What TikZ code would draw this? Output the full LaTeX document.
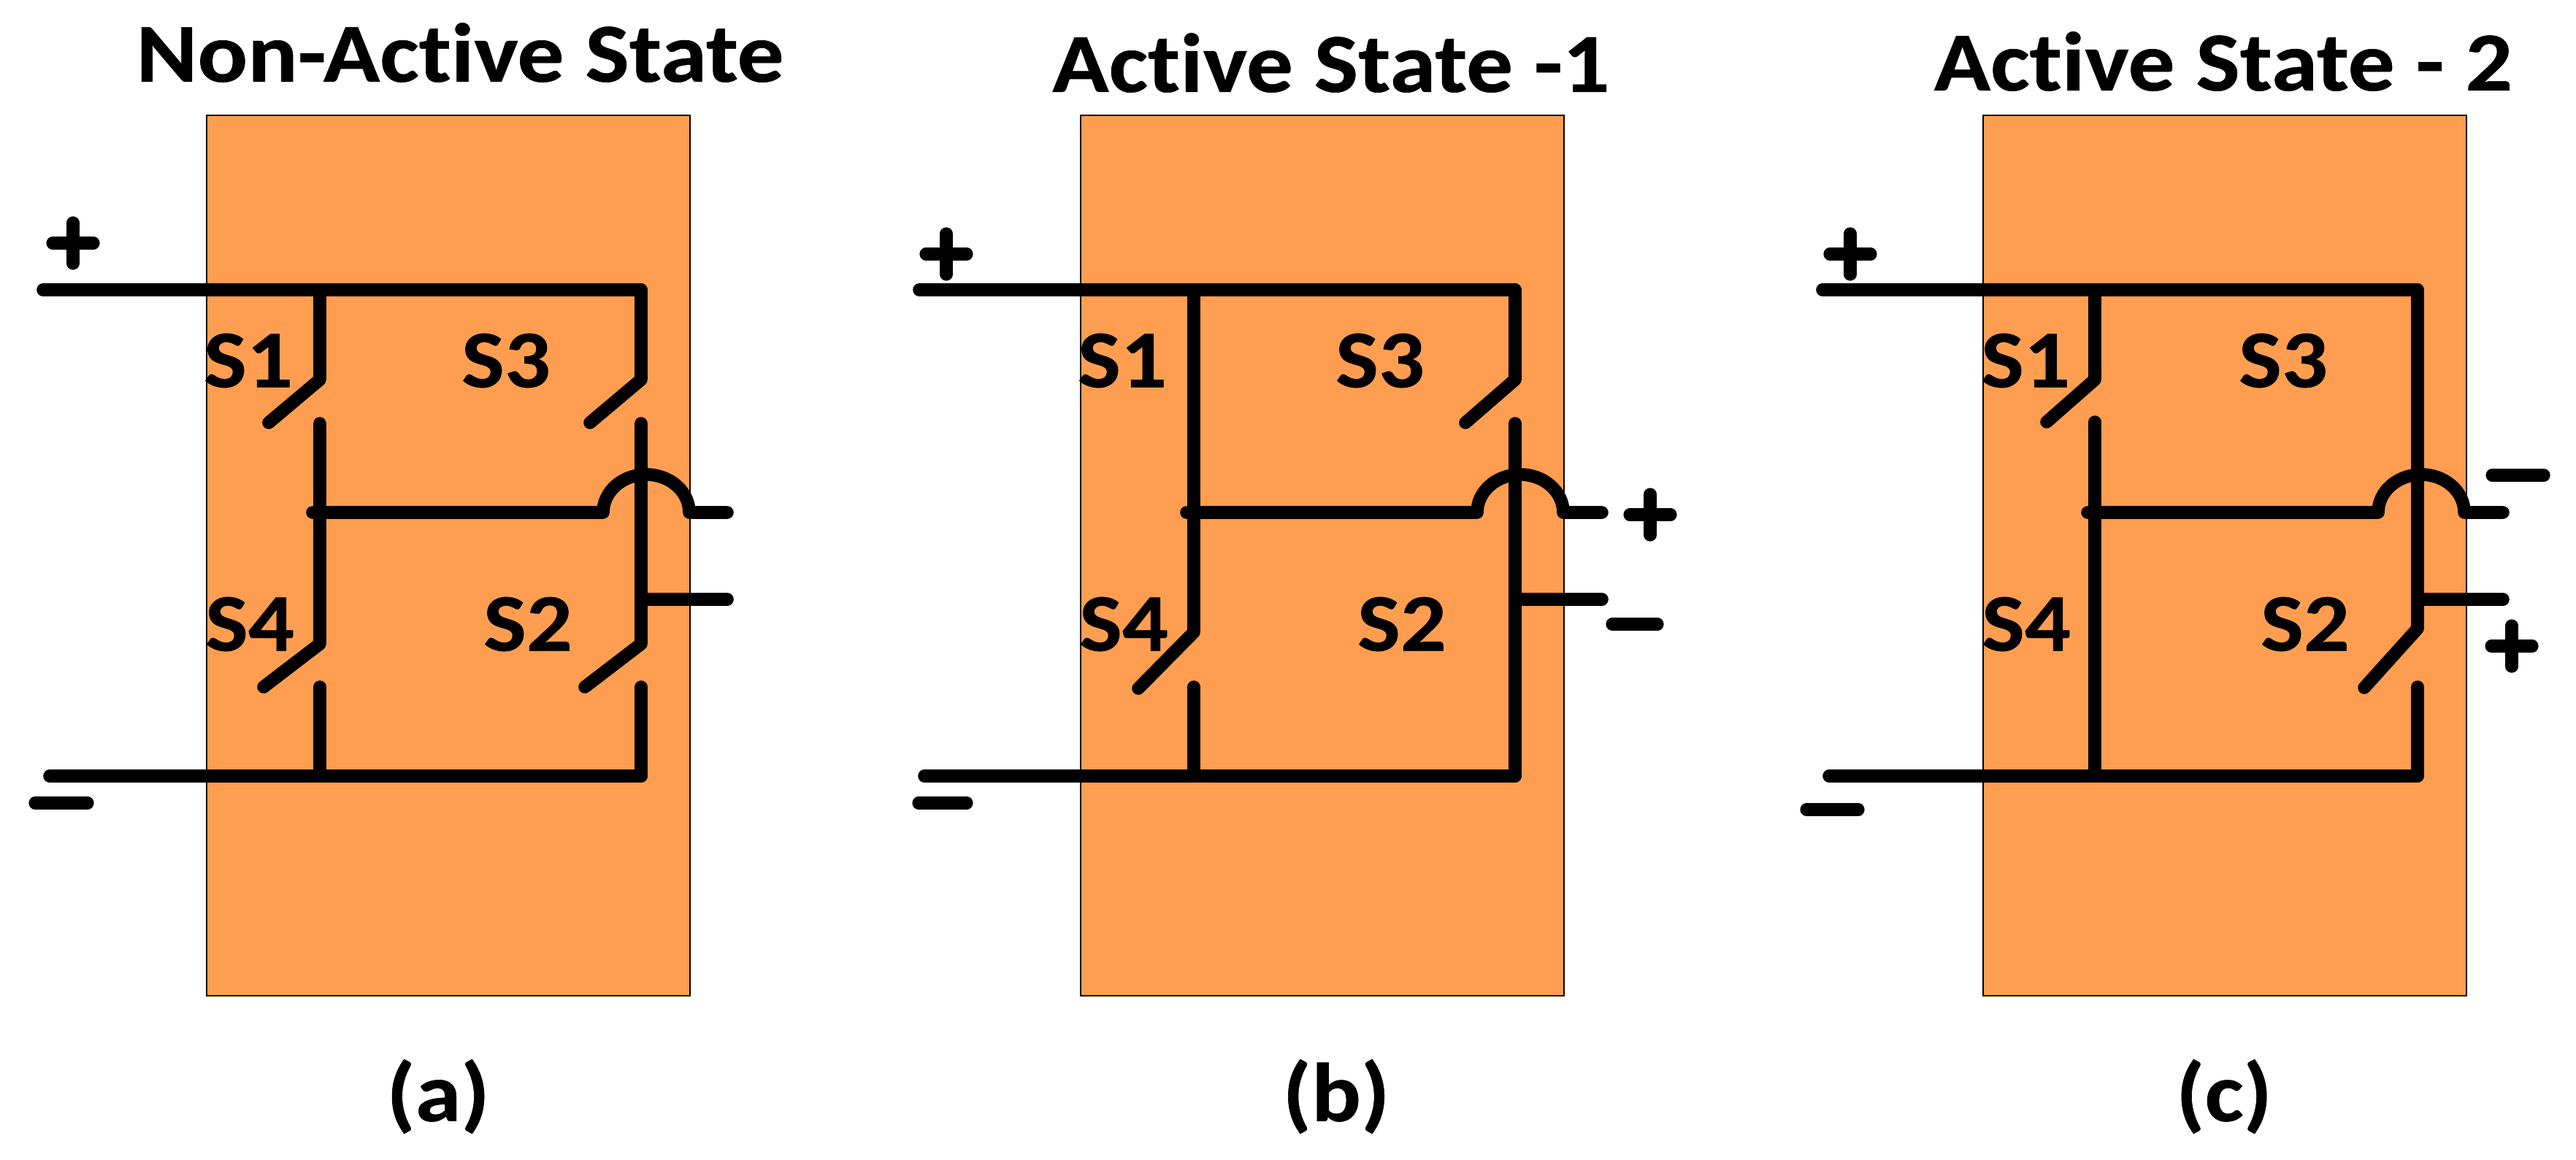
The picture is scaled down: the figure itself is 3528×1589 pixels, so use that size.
\documentclass[tikz,border=0pt]{standalone}
\usepackage{fontspec}
\setmainfont[Ligatures=NoCommon,BoldFeatures={FakeStretch=1.11,FakeBold=0.5}]{Carlito}
\definecolor{panelfill}{RGB}{255,158,80}
\tikzset{
  x=0.5pt,y=-0.5pt,
  panelbox/.style={draw=black,line width=1.3pt,fill=panelfill,minimum width=331pt,minimum height=603pt,inner sep=0pt},
  wire/.style={line width=8.8pt,line cap=round,line join=round,black},
  sign/.style={line width=8.6pt,line cap=round,black},
  swlabel/.style={font=\fontsize{56}{60}\bfseries\selectfont,inner sep=0pt,anchor=center},
  title/.style={font=\fontsize{57.5}{60}\bfseries\selectfont,inner sep=0pt,anchor=center},
  caption/.style={font=\fontsize{57}{60}\bfseries\selectfont,inner sep=0pt,anchor=center}
}
\begin{document}
\begin{tikzpicture}
\useasboundingbox (0,0) rectangle (3528,1589);
% ---------- panel a
\node[panelbox] (boxa) at (614,761) {};
\node[title] (titlea) at (630,72) {Non-Active State};
\node[caption] (capa) at (600,1502) {(a)};
\coordinate (a1) at (59,397); \coordinate (a2) at (438,397); \coordinate (a3) at (878,397);
\coordinate (a4) at (68,1063); \coordinate (a5) at (438,1063); \coordinate (a6) at (878,1063);
\draw[wire] (a1) -- (a3);
\draw[wire] (a4) -- (a6);
\draw[wire] (a2) -- (438,520) -- (368,579);
\draw[wire] (438,580) -- (438,882) -- (361,941);
\draw[wire] (438,941) -- (a5);
\draw[wire] (a3) -- (878,520) -- (808,579);
\draw[wire] (878,580) -- (878,882) -- (801,941);
\draw[wire] (878,941) -- (a6);
\draw[wire] (428,702) -- (826,702) arc[start angle=180,end angle=0,x radius=59,y radius=-52] -- (996,702);
\coordinate (a7) at (878,821); \coordinate (a8) at (996,821);
\draw[wire] (a7) -- (a8);
\draw[sign] (72,333) -- (128,333); \draw[sign] (100,305) -- (100,361);
\draw[sign] (48,1100) -- (120,1100);
\node[swlabel] (as1) at (340,494) {S1};
\node[swlabel] (as3) at (693,494) {S3};
\node[swlabel] (as4) at (342,855) {S4};
\node[swlabel] (as2) at (723,855) {S2};
% ---------- panel b
\node[panelbox] (boxb) at (1811,761) {};
\node[title] (titleb) at (1823,86) {Active State -1};
\node[caption] (capb) at (1830,1502) {(b)};
\coordinate (b1) at (1259,397); \coordinate (b2) at (1635,397); \coordinate (b3) at (2075,397);
\coordinate (b4) at (1266,1063); \coordinate (b5) at (1635,1063); \coordinate (b6) at (2075,1063);
\draw[wire] (b1) -- (b3);
\draw[wire] (b4) -- (b6);
\draw[wire] (b2) -- (1635,866) -- (1559,943);
\draw[wire] (1635,941) -- (b5);
\draw[wire] (b3) -- (2075,520) -- (2007,579);
\draw[wire] (2075,580) -- (b6);
\draw[wire] (1625,702) -- (2023,702) arc[start angle=180,end angle=0,x radius=59,y radius=-52] -- (2194,702);
\coordinate (b7) at (2075,821); \coordinate (b8) at (2194,821);
\draw[wire] (b7) -- (b8);
\draw[sign] (1268,348) -- (1324,348); \draw[sign] (1296,320) -- (1296,376);
\draw[sign] (1258,1100) -- (1324,1100);
\draw[sign] (2232,705) -- (2288,705); \draw[sign] (2260,677) -- (2260,733);
\draw[sign] (2208,855) -- (2270,855);
\node[swlabel] (bs1) at (1537,494) {S1};
\node[swlabel] (bs3) at (1890,494) {S3};
\node[swlabel] (bs4) at (1539,855) {S4};
\node[swlabel] (bs2) at (1920,855) {S2};
% ---------- panel c
\node[panelbox] (boxc) at (3047,761) {};
\node[title] (titlec) at (3045,84) {Active State - 2};
\node[caption] (capc) at (3046,1502) {(c)};
\coordinate (c1) at (2496,397); \coordinate (c2) at (2869,397); \coordinate (c3) at (3311,397);
\coordinate (c4) at (2505,1063); \coordinate (c5) at (2869,1063); \coordinate (c6) at (3311,1063);
\draw[wire] (c1) -- (c3);
\draw[wire] (c4) -- (c6);
\draw[wire] (c2) -- (2869,520) -- (2803,578);
\draw[wire] (2869,578) -- (c5);
\draw[wire] (c3) -- (3311,861) -- (3238,942);
\draw[wire] (3311,941) -- (c6);
\draw[wire] (2859,702) -- (3257,702) arc[start angle=180,end angle=0,x radius=59,y radius=-52] -- (3428,702);
\coordinate (c7) at (3311,821); \coordinate (c8) at (3428,821);
\draw[wire] (c7) -- (c8);
\draw[sign] (2506,348) -- (2562,348); \draw[sign] (2534,320) -- (2534,376);
\draw[sign] (2474,1109) -- (2545,1109);
\draw[sign] (3413,651) -- (3484,651);
\draw[sign] (3412,885) -- (3468,885); \draw[sign] (3440,857) -- (3440,913);
\node[swlabel] (cs1) at (2774,494) {S1};
\node[swlabel] (cs3) at (3127,494) {S3};
\node[swlabel] (cs4) at (2775,855) {S4};
\node[swlabel] (cs2) at (3157,855) {S2};
\end{tikzpicture}
\end{document}
